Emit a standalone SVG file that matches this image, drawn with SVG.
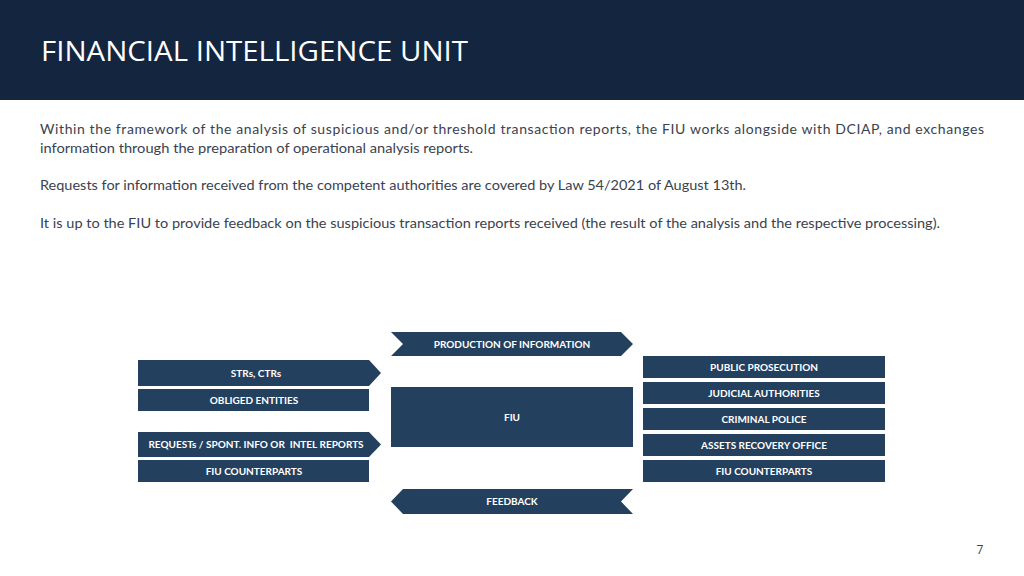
<svg xmlns="http://www.w3.org/2000/svg" width="1024" height="576" viewBox="0 0 1024 576">
<style>
.p{font-family:Lato,"Open Sans","Liberation Sans",sans-serif;font-size:14px;fill:#3A4250}
.b{fill:#24405F}
.t{font-family:Lato,"Open Sans","Liberation Sans",sans-serif;font-size:10px;font-weight:bold;fill:#FFFFFF;text-anchor:middle}
</style>
<rect width="1024" height="576" fill="#FFFFFF"/>
<rect width="1024" height="100" fill="#13253F"/>
<text x="41" y="61" font-family="Open Sans, Liberation Sans, sans-serif" font-size="28" fill="#FFFFFF" textLength="427" lengthAdjust="spacingAndGlyphs">FINANCIAL INTELLIGENCE UNIT</text>
<text class="p" x="40" y="134" textLength="944" lengthAdjust="spacing">Within the framework of the analysis of suspicious and/or threshold transaction reports, the FIU works alongside with DCIAP, and exchanges</text>
<text class="p" x="40" y="153" textLength="433" lengthAdjust="spacingAndGlyphs">information through the preparation of operational analysis reports.</text>
<text class="p" x="40" y="190" textLength="706" lengthAdjust="spacingAndGlyphs">Requests for information received from the competent authorities are covered by Law 54/2021 of August 13th.</text>
<text class="p" x="40" y="228" textLength="900" lengthAdjust="spacingAndGlyphs">It is up to the FIU to provide feedback on the suspicious transaction reports received (the result of the analysis and the respective processing).</text>
<g id="connectors">
<g id="production">
<polygon class="b" points="391,332 621,332 633,344 621,356 391,356 403,344"/>
<text class="t" x="512" y="347.5">PRODUCTION OF INFORMATION</text>
</g>
<g id="feedback">
<polygon class="b" points="403,489 633,489 621,501.5 633,514 403,514 391,501.5"/>
<text class="t" x="512" y="505">FEEDBACK</text>
</g>
<g id="strs">
<polygon class="b" points="138,360 369,360 381,373 369,386 138,386"/>
<text class="t" x="256" y="376.5">STRs, CTRs</text>
</g>
<g id="requests">
<polygon class="b" points="138,432 369,432 381,444.5 369,457 138,457"/>
<text class="t" x="256" y="448" xml:space="preserve">REQUESTs / SPONT. INFO OR  INTEL REPORTS</text>
</g>
</g>
<g id="obliged">
<rect class="b" x="138" y="389" width="231" height="22"/>
<text class="t" x="254" y="403.5">OBLIGED ENTITIES</text>
</g>
<g id="fiu-counterparts-left">
<rect class="b" x="138" y="460" width="231" height="22"/>
<text class="t" x="254" y="474.5">FIU COUNTERPARTS</text>
</g>
<g id="fiu">
<rect class="b" x="391" y="387" width="242" height="60"/>
<text class="t" x="512" y="421">FIU</text>
</g>
<g id="public-prosecution">
<rect class="b" x="643" y="356" width="242" height="22"/>
<text class="t" x="764" y="370.5">PUBLIC PROSECUTION</text>
</g>
<g id="judicial">
<rect class="b" x="643" y="382" width="242" height="22"/>
<text class="t" x="764" y="396.5">JUDICIAL AUTHORITIES</text>
</g>
<g id="police">
<rect class="b" x="643" y="408" width="242" height="22"/>
<text class="t" x="764" y="422.5">CRIMINAL POLICE</text>
</g>
<g id="aro">
<rect class="b" x="643" y="434" width="242" height="22"/>
<text class="t" x="764" y="448.5">ASSETS RECOVERY OFFICE</text>
</g>
<g id="fiu-counterparts-right">
<rect class="b" x="643" y="460" width="242" height="22"/>
<text class="t" x="764" y="474.5">FIU COUNTERPARTS</text>
</g>
<text x="980" y="554" font-family="Open Sans, Liberation Sans, sans-serif" font-size="12" fill="#3A4250" text-anchor="middle">7</text>
</svg>
